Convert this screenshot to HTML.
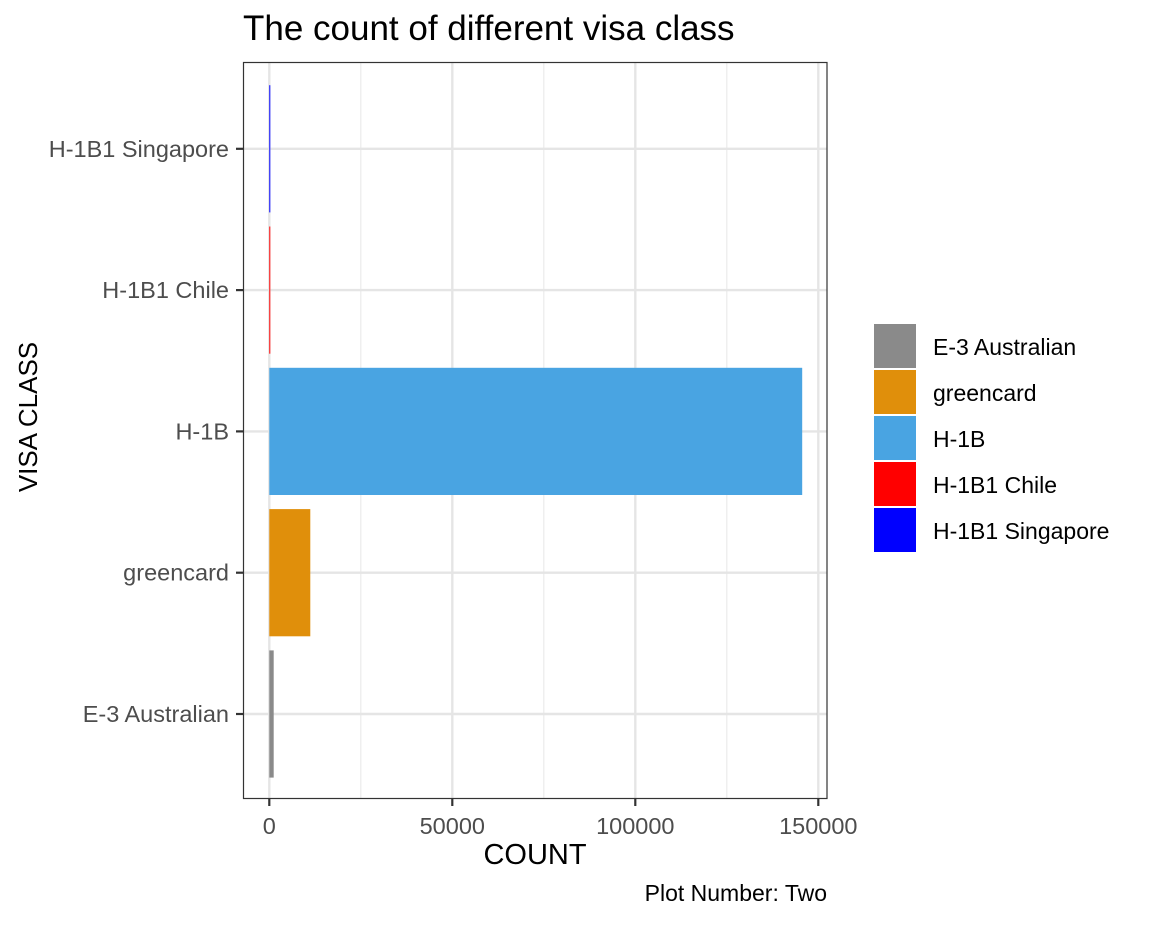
<!DOCTYPE html>
<html><head><meta charset="utf-8"><style>
body{margin:0;background:#fff;}
svg text{font-family:"Liberation Sans",Arial,sans-serif;}
</style></head><body>
<svg id="chart" width="1152" height="921" xmlns="http://www.w3.org/2000/svg">
<text x="243" y="40" font-size="35" fill="#000">The count of different visa class</text>
<g id="grid"></g>
<g id="bars"></g>
<rect x="243.5" y="62.5" width="583.5" height="736" fill="none" stroke="#333" stroke-width="1.2"/>
<g id="axes"></g>
<text x="535" y="864" font-size="29" text-anchor="middle">COUNT</text>
<text transform="translate(37,417) rotate(-90)" font-size="26" text-anchor="middle">VISA CLASS</text>
<text x="827" y="901" font-size="23" text-anchor="end">Plot Number: Two</text>
<g id="legend"></g>
</svg>
<script>
const categories=["E-3 Australian","greencard","H-1B","H-1B1 Chile","H-1B1 Singapore"];
const counts=[1200,11200,145600,200,200];
const colors=["#8a8a8a","#e08f0b","#49a4e2","#ff0000","#0000ff"];
const xTicks=[0,50000,100000,150000];
const xMinor=[25000,75000,125000];
const NS="http://www.w3.org/2000/svg";
const x=v=>269.3+v*(183/50000);
const y=i=>714-i*141.3;
function mk(p,t,a){const e=document.createElementNS(NS,t);for(const k in a)e.setAttribute(k,a[k]);p.appendChild(e);return e;}
const grid=document.getElementById('grid'),bars=document.getElementById('bars'),axes=document.getElementById('axes'),leg=document.getElementById('legend');
xMinor.forEach(v=>{const l=mk(grid,'line',{x1:x(v),x2:x(v),y1:62,y2:798,stroke:'#ebebeb','stroke-width':1.2});

});
xTicks.forEach(v=>{const l=mk(grid,'line',{x1:x(v),x2:x(v),y1:62,y2:798,stroke:'#e5e5e5','stroke-width':2.4});


const t=mk(axes,'line',{x1:x(v),x2:x(v),y1:799,y2:806,stroke:'#333','stroke-width':2.2});


const tx=mk(axes,'text',{x:x(v),y:834,'font-size':23.5,'text-anchor':'middle',fill:'#4d4d4d'});tx.textContent=v;

});
categories.forEach((c,i)=>{const l=mk(grid,'line',{x1:243,x2:827,y1:y(i),y2:y(i),stroke:'#e5e5e5','stroke-width':2.4});


const r=mk(bars,'rect',{x:x(0),y:y(i)-63.6,width:Math.max(1,x(counts[i])-x(0)),height:127.2,fill:colors[i]});


const t=mk(axes,'line',{x1:236,x2:243,y1:y(i),y2:y(i),stroke:'#333','stroke-width':2.2});


const tx=mk(axes,'text',{x:229,y:y(i)+8,'font-size':23.5,'text-anchor':'end',fill:'#4d4d4d'});tx.textContent=c;


const k=mk(leg,'rect',{x:874,y:324+i*46,width:42,height:44,fill:colors[i]});


const lt=mk(leg,'text',{x:933,y:355+i*46,'font-size':23,fill:'#000'});lt.textContent=c;

});
</script>
</body></html>
